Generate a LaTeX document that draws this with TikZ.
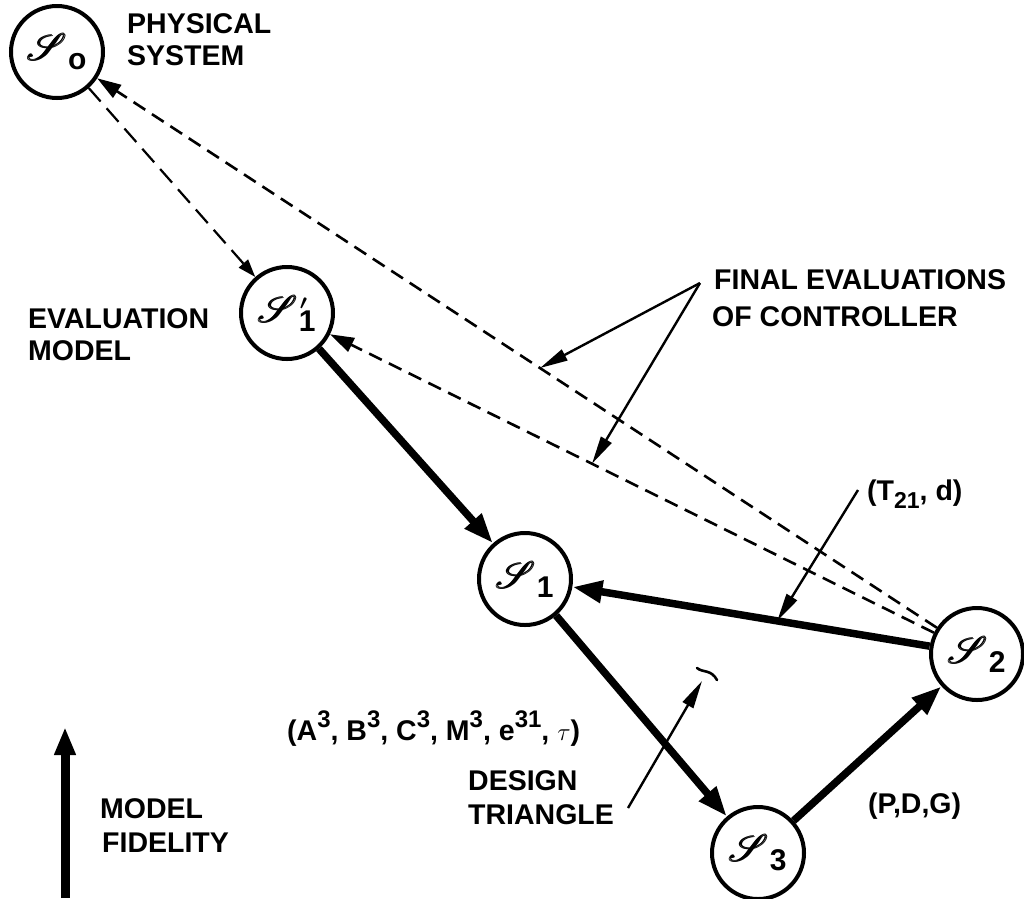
\documentclass[tikz,border=0pt]{standalone}
\usepackage{fontspec}
\setmainfont{Liberation Sans}
\usepackage{amsmath}
\usepackage{mathrsfs}
\usepackage{graphicx}
\usetikzlibrary{arrows.meta,calc}
\newcommand\Sglyph{\scalebox{1.5}{\fontsize{24.88}{25}\selectfont$\pmb{\mathscr{S}}$}}
\newcommand\Sy[1]{\Sglyph\kern1pt\raisebox{-9pt}{\fontsize{30}{30}\selectfont\bfseries #1}}
\newcommand\Syp[1]{\Sglyph\kern1pt\raisebox{-9pt}{\fontsize{30}{30}\selectfont\bfseries\makebox[0pt][l]{\raisebox{22pt}{\kern1pt\fontsize{22}{22}\selectfont$\boldsymbol{\prime}$}}#1}}
\newcommand\sps[1]{\raisebox{0.45em}{\fontsize{24}{24}\selectfont\bfseries #1}}
\begin{document}
\begin{tikzpicture}[x=1pt,y=-1pt,
  st/.style={circle,draw,line width=4pt,minimum size=92pt,inner sep=0pt},
  thickarr/.style={line width=7.5pt,-{Triangle[length=30pt,width=21pt]}},
  dashline/.style={line width=2.6pt,dash pattern=on 14pt off 8pt,-{Triangle[length=24pt,width=15pt]}},
  dashsmall/.style={line width=2.2pt,dash pattern=on 18pt off 9pt,-{Triangle[length=18pt,width=12pt]}},
  thinarr/.style={line width=2.4pt,-{Triangle[length=28pt,width=12pt]}},
  lbl/.style={font=\fontsize{28.5}{28.5}\selectfont\bfseries,inner sep=0pt,anchor=base west}
]
\useasboundingbox (0,0) rectangle (1024,898);
% states
\node[st] (s0) at (57,52) {\Sy{o}};
\node[st] (s1p) at (287,313) {\Syp{1}};
\node[st] (s1) at (525,579) {\Sy{1}};
\node[st] (s2) at (977,654) {\Sy{2}};
\node[st] (s3) at (758,853) {\Sy{3}};
% thick design arrows
\draw[thickarr] (s1p) -- (s1);
\draw[thickarr] (s2) -- (s1);
\draw[thickarr] (s1) -- (s3);
\draw[thickarr] (s3) -- (s2);
% dashed evaluation arrows
\draw[dashsmall] (s0) -- (s1p);
\draw[dashline] (s2) -- (s0);
\draw[dashline] (s2) -- (s1p);
% labels
\node[lbl] (l1) at (127,33) {PHYSICAL};
\node[lbl] (l2) at (127,65) {SYSTEM};
\node[lbl] (l3) at (28,328) {EVALUATION};
\node[lbl] (l4) at (28,360) {MODEL};
\node[lbl] (l5) at (714,289) {FINAL EVALUATIONS};
\node[lbl] (l6) at (712,326) {OF CONTROLLER};
\node[lbl] (l7) at (867,500) {(T\raisebox{-0.3em}{\fontsize{23}{23}\selectfont\bfseries 21}, d)};
\node[lbl] (l8) at (287,740) {(A\sps{3}, B\sps{3}, C\sps{3}, M\sps{3}, e\sps{31}, $\tau$)};
\node[lbl] (l9) at (468,790) {DESIGN};
\node[lbl] (l10) at (468,824) {TRIANGLE};
\node[lbl] (l11) at (868,813) {(P,D,G)};
\node[lbl] (l12) at (100,818) {MODEL};
\node[lbl] (l13) at (102,852) {FIDELITY};
% annotation arrows
\coordinate (fe) at (700,283);
\coordinate (fe1) at ($(s2)!0.475!(s0)$);
\coordinate (fe2) at ($(s2)!0.558!(s1p)$);
\draw[thinarr] (fe) -- (fe1);
\draw[thinarr] (fe) -- (fe2);
\coordinate (td0) at (858,490);
\coordinate (td1) at ($(s2)!0.442!(s1)$);
\draw[thinarr] (td0) -- (td1);
\coordinate (dt0) at (628,808);
\coordinate (dt1) at (702,681);
\draw[thinarr] (dt0) -- (dt1);
\draw[line width=2.6pt,line cap=round] (697,668) .. controls (703,673) and (711,669) .. (717,680);
% model fidelity
\coordinate (mf0) at (65,898);
\coordinate (mf1) at (65,727);
\draw[line width=9pt,-{Triangle[length=28pt,width=20pt]}] (mf0) -- (mf1);
\end{tikzpicture}
\end{document}
